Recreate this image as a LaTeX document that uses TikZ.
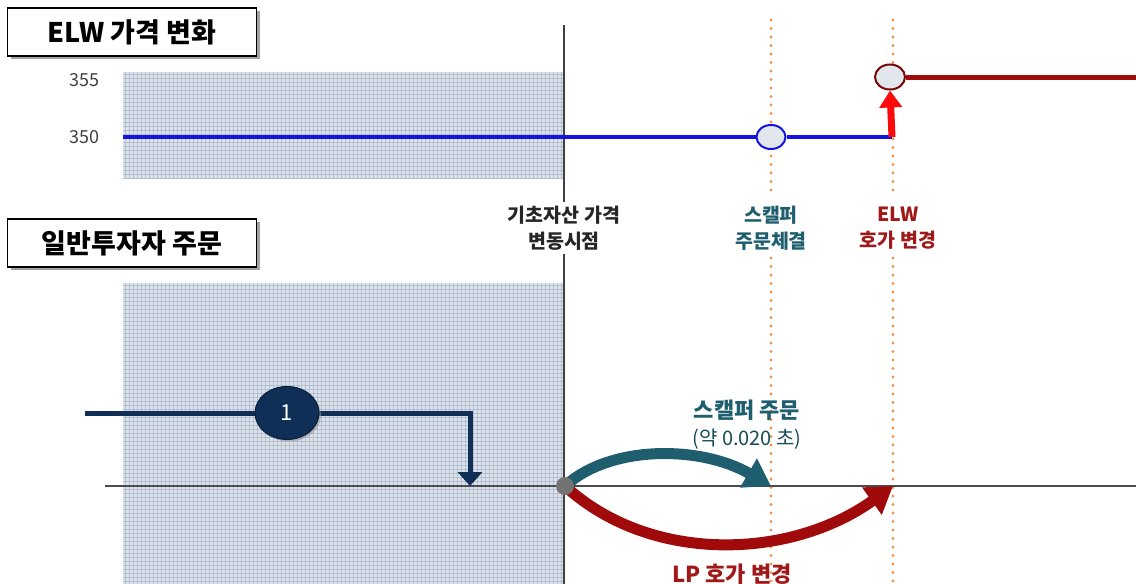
\documentclass[tikz,border=0pt]{standalone}
\usepackage{fontspec}
\setmainfont{Noto Sans CJK KR}
\newfontfamily\kr{Noto Sans CJK KR}
\usetikzlibrary{arrows.meta,shadows,shapes.geometric}
\definecolor{gridbg}{RGB}{222,228,236}
\definecolor{gridln}{RGB}{178,189,205}
\definecolor{blueline}{RGB}{20,20,225}
\definecolor{darkred}{RGB}{160,10,10}
\definecolor{brightred}{RGB}{250,10,10}
\definecolor{tealc}{RGB}{30,94,110}
\definecolor{navyc}{RGB}{15,47,87}
\definecolor{redtext}{RGB}{160,24,24}
\definecolor{orangedot}{RGB}{240,150,80}
\definecolor{circfill}{RGB}{226,230,237}
\begin{document}
\begin{tikzpicture}[x=1pt,y=-1pt,
  titlebox/.style={draw=black,line width=1.8pt,fill=white,minimum width=249pt,minimum height=48pt,
     font=\kr\bfseries\fontsize{27}{30}\selectfont,drop shadow={shadow xshift=3pt,shadow yshift=-3pt,fill=black!45,opacity=0.8}},
  gridarea/.style={fill=gridbg},
  gridlines/.style={draw=gridln,line width=0.7pt},
  ellipsebox/.style={ellipse,minimum width=29pt,minimum height=24pt,inner sep=0pt,fill=circfill,line width=2pt},
  vlabel/.style={font=\kr\bfseries\fontsize{19.5}{26}\selectfont,align=center},
  dotline/.style={draw=orangedot,line width=3.4pt,dash pattern=on 0pt off 8.5pt,line cap=round},
]
\useasboundingbox (0,0) rectangle (1136,584);
% grid areas
\fill[gridarea] (123,72) rectangle (565,178);
\foreach \gx in {125,129,...,563} {\draw[gridlines] (\gx,72) -- (\gx,178);}
\foreach \gy in {74,78,...,178} {\draw[gridlines] (123,\gy) -- (565,\gy);}
\fill[gridarea] (123,283) rectangle (565,584);
\foreach \gx in {125,129,...,563} {\draw[gridlines] (\gx,283) -- (\gx,584);}
\foreach \gy in {285,289,...,584} {\draw[gridlines] (123,\gy) -- (565,\gy);}
% titles
\node[titlebox] (t1) at (132,32) {ELW 가격 변화};
\node[titlebox] (t2) at (132,243) {일반투자자 주문};
% axis labels
\node[font=\kr\fontsize{18}{20}\selectfont,text=black!75,anchor=east] (v355) at (103,80) {355};
\node[font=\kr\fontsize{18}{20}\selectfont,text=black!75,anchor=east] (v350) at (103,137) {350};
% vertical labels
\node[vlabel,text=black!85] (lb1) at (564,228) {기초자산 가격\\변동시점};
\node[vlabel,text=tealc] (lb2) at (771,228) {스캘퍼\\주문체결};
\node[vlabel,text=redtext] (lb3) at (898,228) {ELW\\호가 변경};
% vertical lines
\coordinate (vtop) at (564,25);
\coordinate (vbot) at (564,584);
\draw[black!75,line width=2.6pt] (vtop) -- (lb1.north);
\draw[black!75,line width=2.6pt] (lb1.south) -- (vbot);
\coordinate (o1top) at (771,20);
\coordinate (o1bot) at (771,584);
\coordinate (o2top) at (893,20);
\coordinate (o2bot) at (893,584);
\draw[dotline] (o1top) -- (771,198);
\draw[dotline] (771,258) -- (o1bot);
\draw[dotline] (o2top) -- (893,198);
\draw[dotline] (893,258) -- (o2bot);
% ELW price lines
\coordinate (bstart) at (123,137);
\coordinate (bend) at (892,137);
\node[ellipsebox,draw=blueline] (e1) at (771,137) {};
\draw[blueline,line width=4.5pt] (bstart) -- (e1.west);
\draw[blueline,line width=4.5pt] (e1.east) -- (bend);
\node[ellipsebox,draw=darkred!75!black,minimum width=30pt,minimum height=25pt] (e2) at (890,77) {};
\coordinate (rend) at (1136,77);
\draw[darkred,line width=5pt] (e2.east) -- (rend);
\draw[brightred,line width=7pt,-{Triangle[length=17pt,width=22pt]}] (bend) -- (e2.south);
% timeline
\coordinate (tlstart) at (105,486);
\coordinate (tlend) at (1136,486);
\draw[black!70,line width=2.6pt] (tlstart) -- (tlend);
% navy order path
\coordinate (nstart) at (85,413);
\coordinate (ncorner) at (470,413);
\coordinate (nend) at (470,486);
\draw[navyc,line width=5pt] (nstart) -- (287,413);
\draw[navyc,line width=5pt,-{Triangle[length=14pt,width=24pt]}] (287,413) -- (ncorner) -- (nend);
\node[ellipse,fill=navyc,draw=navyc!70!black,line width=1pt,minimum width=64pt,minimum height=53pt,inner sep=0pt,
   drop shadow={shadow xshift=2pt,shadow yshift=-2pt,fill=black!40,opacity=0.6}] (c1) at (287,413) {};
\node[font=\kr\fontsize{22}{24}\selectfont,text=white] (c1t) at (c1.center) {1};
% arrows
\coordinate (tgt1) at (771,486);
\coordinate (tgt2) at (893,486);
\draw[tealc,line width=11pt,-{Triangle[length=26pt,width=32pt]}] (565,486) .. controls (610,445) and (700,445) .. (tgt1);
\draw[darkred,line width=11pt,-{Triangle[length=26pt,width=32pt]}] (565,486) .. controls (650,564) and (790,560) .. (tgt2);
\node[circle,fill=black!55,minimum size=18pt,inner sep=0pt] (dot) at (565,486) {};
% arrow labels
\node[font=\kr\bfseries\fontsize{22}{24}\selectfont,text=tealc] (l1) at (747,410) {스캘퍼 주문};
\node[font=\kr\fontsize{20}{22}\selectfont,text=tealc!80!black] (l2) at (747,439) {(약 0.020 초)};
\node[font=\kr\bfseries\fontsize{22}{24}\selectfont,text=redtext] (l3) at (732,574) {LP 호가 변경};
\end{tikzpicture}
\end{document}
